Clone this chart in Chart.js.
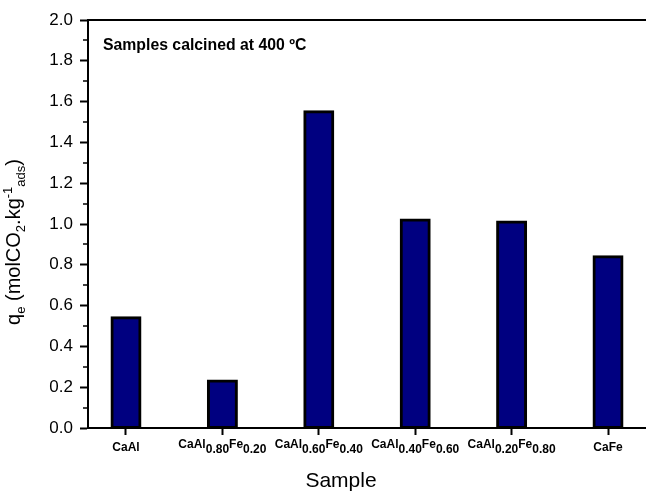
<!DOCTYPE html>
<html>
<head>
<meta charset="utf-8">
<script src="https://cdn.jsdelivr.net/npm/chart.js@4.4.0/dist/chart.umd.min.js"></script>
<style>
html, body { margin: 0; padding: 0; background: #fff; }
canvas { display: block; }
</style>
</head>
<body>
<canvas id="chart" width="646" height="494"></canvas>
<script>
// CO2 uptake per sample (mol CO2 / kg adsorbent)
var samples = ['CaAl', 'CaAl0.80Fe0.20', 'CaAl0.60Fe0.40', 'CaAl0.40Fe0.60', 'CaAl0.20Fe0.80', 'CaFe'];
var qe = [0.54, 0.23, 1.55, 1.02, 1.01, 0.84];

var yTicks = [0.0, 0.2, 0.4, 0.6, 0.8, 1.0, 1.2, 1.4, 1.6, 1.8, 2.0];
var yMinorTicks = [0.1, 0.3, 0.5, 0.7, 0.9, 1.1, 1.3, 1.5, 1.7, 1.9];

var FONT = '"Liberation Sans", Arial, Helvetica, sans-serif';

// draws a row of text pieces (sub/superscripts via dy), centred on x
function richText(ctx, parts, x, y){
    var total = 0;
    for(var i=0;i<parts.length;i++){
        ctx.font = parts[i].font;
        parts[i].w = ctx.measureText(parts[i].text).width;
        total += parts[i].w;
    }
    var cx = x - total / 2;
    ctx.textAlign = 'left';
    ctx.textBaseline = 'alphabetic';
    for(var j=0;j<parts.length;j++){
        ctx.font = parts[j].font;
        ctx.fillText(parts[j].text, cx, y + (parts[j].dy || 0));
        cx += parts[j].w;
    }
}

// 'CaAl0.80Fe0.20' -> CaAl, 0.80 (sub), Fe, 0.20 (sub)
function labelParts(label){
    var bits = label.split(/(\d+\.\d+)/), parts = [];
    for(var i=0;i<bits.length;i++){
        if(bits[i] === '') continue;
        parts.push({ text: bits[i], font: 'bold 12px ' + FONT, dy: (i % 2) ? 5 : 0 });
    }
    return parts;
}

var decor = {
    id: 'decor',
    afterDraw: function(chart){
        var ctx = chart.ctx, area = chart.chartArea;
        var xs = chart.scales.x, ys = chart.scales.y;
        ctx.save();
        ctx.strokeStyle = '#000';
        ctx.fillStyle = '#000';

        // top frame line
        ctx.lineWidth = 2;
        ctx.beginPath();
        ctx.moveTo(area.left, area.top);
        ctx.lineTo(area.right, area.top);
        ctx.stroke();

        // minor ticks on y
        ctx.lineWidth = 1.5;
        for(var i=0;i<yMinorTicks.length;i++){
            var py = Math.round(ys.getPixelForValue(yMinorTicks[i]));
            ctx.beginPath();
            ctx.moveTo(area.left - 5, py);
            ctx.lineTo(area.left, py);
            ctx.stroke();
        }

        // category labels with subscripts
        for(var k=0;k<samples.length;k++){
            var px = xs.getPixelForValue(k + 1);
            var parts = labelParts(samples[k]);
            richText(ctx, parts, px, parts.length > 1 ? 447.5 : 451);
        }

        // axis titles
        richText(ctx, [{ text: 'Sample', font: '21px ' + FONT }], 341, 487);

        ctx.save();
        ctx.translate(20, 242);
        ctx.rotate(-Math.PI / 2);
        var big = '20px ' + FONT, small = '13px ' + FONT;
        richText(ctx, [
            { text: 'q', font: big },
            { text: 'e', font: small, dy: 5 },
            { text: ' (molCO', font: big },
            { text: '2', font: small, dy: 5 },
            { text: '.kg', font: big },
            { text: '-1', font: small, dy: -8 },
            { text: 'ads', font: small, dy: 5 },
            { text: ')', font: big }
        ], 0, 0);
        ctx.restore();

        // note inside the plot
        ctx.font = 'bold 15.8px ' + FONT;
        ctx.textAlign = 'left';
        ctx.textBaseline = 'alphabetic';
        ctx.fillText('Samples calcined at 400 ºC', 103, 50);

        ctx.restore();
    }
};

var ctx = document.getElementById('chart').getContext('2d');
new Chart(ctx, {
    type: 'bar',
    data: {
        datasets: [{
            data: samples.map(function(s, i){ return { x: i + 1, y: qe[i] }; }),
            backgroundColor: '#000080',
            borderColor: '#000',
            borderWidth: 3,
            borderSkipped: false,
            inflateAmount: 1.5,
            barThickness: 28
        }]
    },
    options: {
        responsive: false,
        animation: false,
        devicePixelRatio: 1,
        layout: { padding: { top: 20, left: 0, right: 0, bottom: 0 } },
        plugins: { legend: { display: false }, tooltip: { enabled: false } },
        scales: {
            x: {
                type: 'linear',
                min: 0.606,
                max: 6.394,
                offset: false,
                grid: { offset: false, drawOnChartArea: false, drawTicks: true, tickLength: 7, tickColor: '#000', tickWidth: 2 },
                border: { display: true, color: '#000', width: 2 },
                ticks: { display: false },
                afterBuildTicks: function(s){
                    s.ticks = samples.map(function(n, i){ return { value: i + 1 }; });
                },
                afterFit: function(s){ s.height = 66; }
            },
            y: {
                min: 0,
                max: 2,
                grid: { drawOnChartArea: false, drawTicks: true, tickLength: 8, tickColor: '#000', tickWidth: 2 },
                border: { display: true, color: '#000', width: 2 },
                ticks: {
                    color: '#000',
                    padding: 7,
                    font: { family: FONT, size: 17 },
                    callback: function(v){ return v.toFixed(1); }
                },
                afterBuildTicks: function(s){
                    s.ticks = yTicks.map(function(v){ return { value: v }; });
                },
                afterFit: function(s){ s.width = 88; }
            }
        }
    },
    plugins: [decor]
});
</script>
</body>
</html>
